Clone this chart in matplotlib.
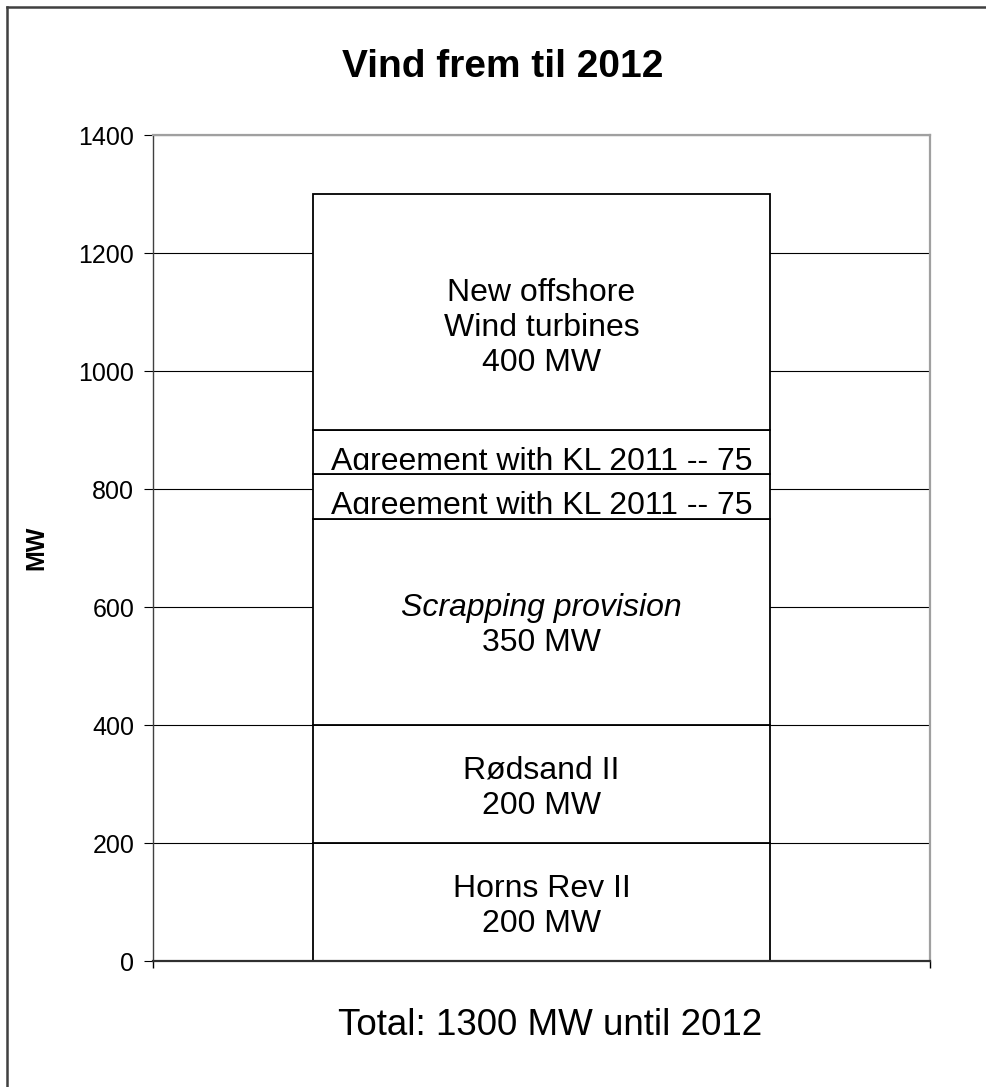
import matplotlib.pyplot as plt
from matplotlib.lines import Line2D
from matplotlib.transforms import Bbox, TransformedBbox

plt.rcParams['font.family'] = ['Liberation Sans', 'DejaVu Sans']

# segment data, bottom to top
labels = ["Horns Rev II\n200 MW", "Rødsand II\n200 MW", "Scrapping provision\n350 MW",
          "Agreement with KL 2011 -- 75", "Agreement with KL 2011 -- 75",
          "New offshore\nWind turbines\n400 MW"]
values = [200, 200, 350, 75, 75, 400]
italic_first = [False, False, True, False, False, False]
yticks = [0, 200, 400, 600, 800, 1000, 1200, 1400]

fig = plt.figure(figsize=(9.87, 10.87), dpi=100)
ax = fig.add_axes([0.155, 0.1159, 0.7872, 0.7599])

ax.set_xlim(-0.5, 0.5)
ax.set_ylim(0, 1400)
ax.set_yticks(yticks)
ax.tick_params(axis='y', labelsize=18, direction='out', length=6.5, width=0.8, pad=7)
ax.set_xticks([-0.5, 0.5])
ax.set_xticklabels([])
ax.tick_params(axis='x', direction='out', length=5, width=1)
ax.set_axisbelow(True)
ax.yaxis.grid(True, color='black', lw=0.8)

for s in ['top', 'right']:
    ax.spines[s].set_color('#a0a0a0')
    ax.spines[s].set_linewidth(1.6)
ax.spines['left'].set_color('#404040')
ax.spines['left'].set_linewidth(1.0)
ax.spines['bottom'].set_color('#303030')
ax.spines['bottom'].set_linewidth(1.6)

bw = 0.587
line_px = 35
bottom = 0
for lab, v, it in zip(labels, values, italic_first):
    ax.bar(0, v, width=bw, bottom=bottom, color='white',
           edgecolor='black', linewidth=1.3, zorder=2)
    if v < 100:
        # label too tall for the slice: Excel cuts it off at the baseline
        t = ax.text(0, bottom + 8, lab, ha='center', va='baseline', fontsize=23, zorder=3)
        t.set_clip_box(TransformedBbox(Bbox([[-bw / 2, bottom + 7], [bw / 2, bottom + v]]),
                                       ax.transData))
        t.set_clip_on(True)
    else:
        lines = lab.split("\n")
        n = len(lines)
        for i, ln in enumerate(lines):
            dy_px = (i - (n - 1) / 2) * line_px + 12 * (n - 1)
            ax.annotate(ln, xy=(0, bottom + v / 2), xytext=(0, -dy_px * 0.72),
                        textcoords='offset points', ha='center', va='baseline',
                        fontsize=23, style='italic' if (it and i == 0) else 'normal',
                        zorder=3)
    bottom += v

ax.set_ylabel("MW", fontsize=18, fontweight='bold')
ax.yaxis.set_label_coords(-0.135, 0.5)

fig.text(0.509, 0.9294, "Vind frem til 2012", ha='center', va='baseline',
         fontsize=28, fontweight='bold')
fig.text(0.5578, 0.048, "Total: 1300 MW until 2012", ha='center', va='baseline', fontsize=26.5)

# chart area border (left and top visible)
fig.add_artist(Line2D([7 / 987, 7 / 987], [0, 1 - 7 / 1087], transform=fig.transFigure,
                      color='#404040', lw=1.8))
fig.add_artist(Line2D([7 / 987, 1], [1 - 7 / 1087, 1 - 7 / 1087], transform=fig.transFigure,
                      color='#404040', lw=1.8))

fig.savefig("out.png", dpi=100)
